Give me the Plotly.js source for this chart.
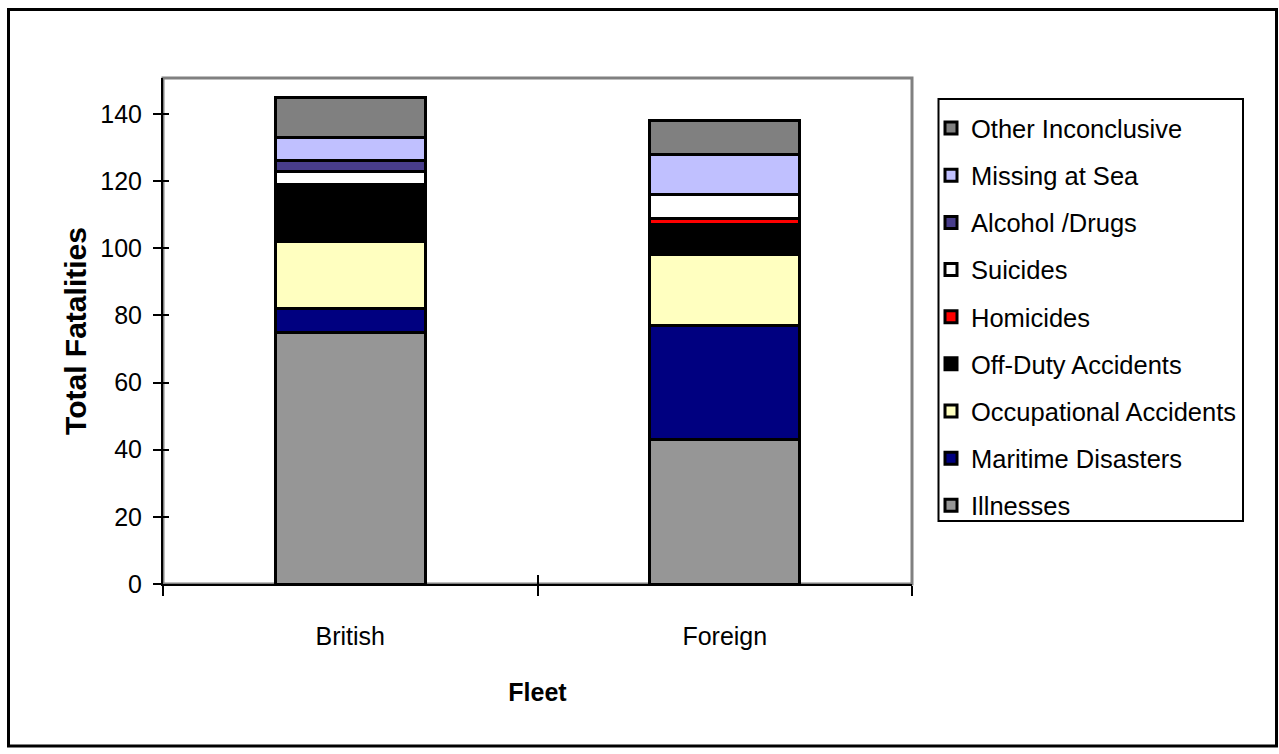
<!DOCTYPE html>
<html>
<head>
<meta charset="utf-8">
<script src="https://cdn.plot.ly/plotly-3.0.1.min.js"></script>
<style>
  html, body { margin: 0; padding: 0; background: #ffffff; }
  #chart { width: 1279px; height: 754px; }
</style>
</head>
<body>
<div id="chart"></div>
<script>
// Fatalities by cause, British vs foreign fleet (stacked)
const fleets = ["British", "Foreign"];

const illnesses      = [75, 43];
const maritime       = [7, 34];
const occupational   = [20, 21];
const offDuty        = [17, 9];
const homicides      = [0, 2];
const suicides       = [4, 7];
const alcoholDrugs   = [3, 0];
const missingAtSea   = [7, 12];
const otherInconcl   = [12, 10];

const seriesNames = [
  "Illnesses", "Maritime Disasters", "Occupational Accidents",
  "Off-Duty Accidents", "Homicides", "Suicides", "Alcohol /Drugs",
  "Missing at Sea", "Other Inconclusive"
];
const seriesValues = [
  illnesses, maritime, occupational, offDuty, homicides,
  suicides, alcoholDrugs, missingAtSea, otherInconcl
];
const seriesColors = [
  "#969696", "#000080", "#FFFFC0", "#000000", "#FF0000",
  "#FFFFFF", "#483D8B", "#C0C0FF", "#808080"
];

const yTicks = [0, 20, 40, 60, 80, 100, 120, 140];

const FONT = "'Liberation Sans', Arial, sans-serif";

// legend lists the top segment first
const traces = seriesNames.map((name, i) => ({
  type: "bar",
  name: name,
  x: fleets,
  y: seriesValues[i],
  legendgroup: "g" + i,
  legendrank: 1000 - i,
  marker: { color: seriesColors[i], line: { color: "#000000", width: 3 } },
  width: 0.4,
  hoverinfo: "name+y"
}));

// second, invisible axes pair gives ticks that cross the axis lines
traces.push({
  type: "bar", x: fleets, y: [0, 0], xaxis: "x2", yaxis: "y2",
  showlegend: false, hoverinfo: "skip", marker: { color: "rgba(0,0,0,0)" }
});

// plot-area pixel frame
const L = 163, R = 912, T = 78, B = 584, W = 1279, H = 754;
const px = v => (v - L) / (R - L);
const py = v => (B - v) / (B - T);
const yMax = 150.7;

const layout = {
  width: W, height: H,
  margin: { l: L, r: W - R, t: T, b: H - B, pad: 0 },
  paper_bgcolor: "#ffffff",
  plot_bgcolor: "#ffffff",
  barmode: "stack",
  font: { family: FONT, size: 24, color: "#000000" },
  showlegend: true,
  legend: {
    x: px(931), xanchor: "left",
    y: py(105), yanchor: "top",
    traceorder: "grouped",
    tracegroupgap: 11,
    bgcolor: "rgba(0,0,0,0)",
    borderwidth: 0,
    font: { family: FONT, size: 25.5, color: "#000000" }
  },
  xaxis: {
    type: "category",
    domain: [0, 1],
    showline: true, linecolor: "#000000", linewidth: 2,
    ticks: "outside", ticklen: 10, tickwidth: 2, tickcolor: "#000000",
    tickson: "boundaries",
    ticklabelstandoff: 29,
    showgrid: false, zeroline: false,
    tickfont: { family: FONT, size: 25 },
    title: { text: "<b>Fleet</b>", font: { family: FONT, size: 25 }, standoff: 34 }
  },
  yaxis: {
    range: [0, yMax],
    tickvals: yTicks,
    ticktext: yTicks.map(String),
    showline: true, linecolor: "#000000", linewidth: 2,
    ticks: "outside", ticklen: 8, tickwidth: 2, tickcolor: "#000000",
    ticklabelstandoff: 6,
    showgrid: false, zeroline: false,
    tickfont: { family: FONT, size: 25 },
    title: { text: "<b>Total Fatalities</b>", font: { family: FONT, size: 30 }, standoff: 5 }
  },
  xaxis2: {
    type: "category", overlaying: "x", matches: "x",
    ticks: "inside", ticklen: 9, tickwidth: 2, tickcolor: "#000000",
    tickson: "boundaries", showticklabels: false,
    showgrid: false, zeroline: false, showline: false
  },
  yaxis2: {
    overlaying: "y", range: [0, yMax], tickvals: yTicks,
    ticks: "inside", ticklen: 6, tickwidth: 2, tickcolor: "#000000",
    showticklabels: false, showgrid: false, zeroline: false, showline: false
  },
  shapes: [
    // grey plot-area frame (top and right edges)
    { type: "rect", xref: "paper", yref: "paper", x0: 0, x1: 1, y0: 0, y1: 1,
      line: { color: "#808080", width: 3 }, layer: "below" },
    // legend box
    { type: "rect", xref: "paper", yref: "paper",
      x0: px(938.5), x1: px(1243), y0: py(521), y1: py(99),
      line: { color: "#000000", width: 2 } },
    // outer chart border
    { type: "rect", xref: "paper", yref: "paper",
      x0: px(8.5), x1: px(1276.5), y0: py(746), y1: py(9.5),
      line: { color: "#000000", width: 3 } }
  ]
};

Plotly.newPlot("chart", traces, layout, { displayModeBar: false, staticPlot: true });
</script>
</body>
</html>
